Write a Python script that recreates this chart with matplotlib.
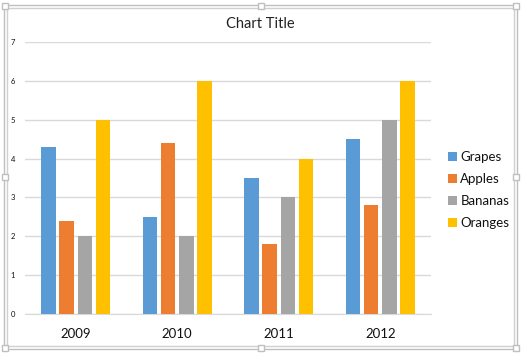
import matplotlib.pyplot as plt
from matplotlib.patches import Rectangle
import numpy as np

plt.rcParams["font.family"] = ["Lato", "DejaVu Sans"]

years = ["2009", "2010", "2011", "2012"]
series = ["Grapes", "Apples", "Bananas", "Oranges"]
grapes = [4.3, 2.5, 3.5, 4.5]
apples = [2.4, 4.4, 1.8, 2.8]
bananas = [2.0, 2.0, 3.0, 5.0]
oranges = [5.0, 6.0, 4.0, 6.0]
colors = ["#5B9BD5", "#ED7D31", "#A5A5A5", "#FFC000"]

W, H = 522, 353
fig = plt.figure(figsize=(W / 100, H / 100), dpi=100)
fig.patch.set_facecolor("white")

ax = fig.add_axes([25 / W, 1 - 314 / H, 406 / W, 272 / H])

x = np.arange(len(years))
bw = 0.143
step = 0.18
for i, (name, vals) in enumerate(zip(series, [grapes, apples, bananas, oranges])):
    ax.bar(x + (i - 1.5) * step, vals, width=bw, color=colors[i], label=name, zorder=3)

ax.set_xlim(-0.5, 3.5)
ax.set_ylim(0, 7)
ax.set_yticks(range(8))
ax.yaxis.grid(True, color="#D9D9D9", linewidth=1, zorder=0)
for s in ["top", "right", "left"]:
    ax.spines[s].set_visible(False)
ax.spines["bottom"].set_color("#D9D9D9")
ax.tick_params(axis="y", length=0, labelsize=5.5, pad=7, labelcolor="#111111")
ax.tick_params(axis="x", length=0, labelsize=9.5, pad=10, labelcolor="#111111")
ax.set_xticks(x)
ax.set_xticklabels(years)

fig.text(260 / W, 1 - 24 / H, "Chart Title", ha="center", va="center",
         fontsize=10.5, color="#222222")

ax.legend(loc="center left", bbox_to_anchor=(436 / W, 1 - 190 / H),
          bbox_transform=fig.transFigure, frameon=False, fontsize=9.5,
          handlelength=0.7, handleheight=0.7, handletextpad=0.25,
          labelspacing=0.75, labelcolor="#111111")

# selection frame with handles
border = "#BFBFBF"
fig.patches.append(Rectangle((4, 4), W - 9, H - 9, transform=None,
                             fill=False, edgecolor=border, linewidth=1))
fig.patches.append(Rectangle((7, 7), W - 15, H - 15, transform=None,
                             fill=False, edgecolor="#D0D0D0", linewidth=1))
for hx in [5, W / 2, W - 6]:
    for hy in [5, H / 2, H - 6]:
        if hx == W / 2 and hy == H / 2:
            continue
        fig.patches.append(Rectangle((hx - 3, hy - 3), 6, 6, transform=None,
                                     facecolor="white", edgecolor=border,
                                     linewidth=1, zorder=5))

fig.savefig("out.png", dpi=100)
